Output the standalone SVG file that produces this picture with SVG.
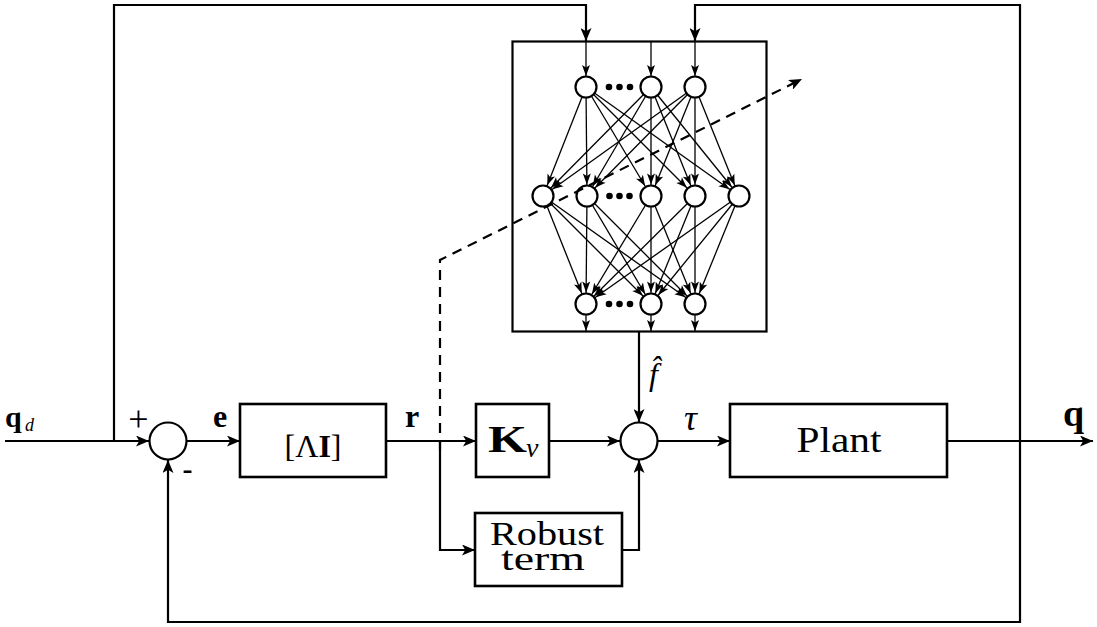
<svg xmlns="http://www.w3.org/2000/svg" width="1097" height="627" viewBox="0 0 1097 627">
<defs>
<style>
.ln{fill:none;stroke:#000;stroke-width:2.2;}
.bx{fill:#fff;stroke:#000;stroke-width:2.6;}
.nn{fill:none;stroke:#000;stroke-width:1.3;}
.neu{fill:#fff;stroke:#000;stroke-width:2.2;}
.dot{fill:#000;}
.t{font-family:"Liberation Serif","Times New Roman",serif;fill:#000;}
.b{font-weight:bold;}
.i{font-style:italic;}
</style>
<marker id="arr" viewBox="0 0 13 11" refX="13" refY="5.5" markerWidth="13" markerHeight="11" markerUnits="userSpaceOnUse" orient="auto">
<path d="M0,0 L13,5.5 L0,11 L3.2,5.5 z" fill="#000"/>
</marker>
<marker id="arrN" viewBox="0 0 11 8" refX="22.5" refY="4" markerWidth="11" markerHeight="8" markerUnits="userSpaceOnUse" orient="auto" overflow="visible">
<path d="M0,0 L11,4 L0,8 L2.6,4 z" fill="#000"/>
</marker>
<marker id="arrS" viewBox="0 0 11 8" refX="11" refY="4" markerWidth="11" markerHeight="8" markerUnits="userSpaceOnUse" orient="auto">
<path d="M0,0 L11,4 L0,8 L2.6,4 z" fill="#000"/>
</marker>
</defs>
<rect width="1097" height="627" fill="#fff"/>

<g id="nn-box">
<rect x="512.5" y="41.5" width="254" height="290" class="ln" stroke-width="2.6"/>
</g>

<g id="connectors">
<path class="ln" d="M5,441 L149,441" marker-end="url(#arr)"/>
<path class="ln" d="M187,441 L240,441" marker-end="url(#arr)"/>
<path class="ln" d="M386,441 L476,441" marker-end="url(#arr)"/>
<path class="ln" d="M440,441 L440,550 L475,550" marker-end="url(#arr)"/>
<path class="ln" d="M549,441 L620,441" marker-end="url(#arr)"/>
<path class="ln" d="M639,332 L639,422" marker-end="url(#arr)"/>
<path class="ln" d="M622,550 L639,550 L639,460" marker-end="url(#arr)"/>
<path class="ln" d="M658,441 L730,441" marker-end="url(#arr)"/>
<path class="ln" d="M947,441 L1093,441" marker-end="url(#arr)"/>
<path class="ln" d="M114,441 L114,5 L586,5 L586,41" marker-end="url(#arr)"/>
<path class="ln" d="M1020,441 L1020,5 L695,5 L695,41" marker-end="url(#arr)" stroke-width="2.6"/>
<path class="ln" d="M1020,441 L1020,622 L168,622 L168,460" marker-end="url(#arr)"/>
<path class="nn" d="M586,42 L586,76" marker-end="url(#arrS)"/>
<path class="nn" d="M651,42 L651,76" marker-end="url(#arrS)"/>
<path class="nn" d="M695,42 L695,76" marker-end="url(#arrS)"/>
<path class="nn" d="M586,315 L586,331" marker-end="url(#arrS)"/>
<path class="nn" d="M651,315 L651,331" marker-end="url(#arrS)"/>
<path class="nn" d="M695,315 L695,331" marker-end="url(#arrS)"/>
<g marker-end="url(#arrN)">
<path class="nn" d="M586,87 L543,196"/>
<path class="nn" d="M586,87 L587,196"/>
<path class="nn" d="M586,87 L651,196"/>
<path class="nn" d="M586,87 L695,196"/>
<path class="nn" d="M586,87 L739,196"/>
<path class="nn" d="M651,87 L543,196"/>
<path class="nn" d="M651,87 L587,196"/>
<path class="nn" d="M651,87 L651,196"/>
<path class="nn" d="M651,87 L695,196"/>
<path class="nn" d="M651,87 L739,196"/>
<path class="nn" d="M695,87 L543,196"/>
<path class="nn" d="M695,87 L587,196"/>
<path class="nn" d="M695,87 L651,196"/>
<path class="nn" d="M695,87 L695,196"/>
<path class="nn" d="M695,87 L739,196"/>
<path class="nn" d="M543,196 L586,304"/>
<path class="nn" d="M543,196 L651,304"/>
<path class="nn" d="M543,196 L695,304"/>
<path class="nn" d="M587,196 L586,304"/>
<path class="nn" d="M587,196 L651,304"/>
<path class="nn" d="M587,196 L695,304"/>
<path class="nn" d="M651,196 L586,304"/>
<path class="nn" d="M651,196 L651,304"/>
<path class="nn" d="M651,196 L695,304"/>
<path class="nn" d="M695,196 L586,304"/>
<path class="nn" d="M695,196 L651,304"/>
<path class="nn" d="M695,196 L695,304"/>
<path class="nn" d="M739,196 L586,304"/>
<path class="nn" d="M739,196 L651,304"/>
<path class="nn" d="M739,196 L695,304"/>
</g>
</g>

<g id="neurons">
<circle class="neu" cx="586" cy="87" r="10.5"/>
<circle class="neu" cx="651" cy="87" r="10.5"/>
<circle class="neu" cx="695" cy="87" r="10.5"/>
<circle class="dot" cx="609" cy="87" r="3.3"/>
<circle class="dot" cx="619.5" cy="87" r="3.3"/>
<circle class="dot" cx="630" cy="87" r="3.3"/>
<circle class="neu" cx="543" cy="196" r="10.5"/>
<circle class="neu" cx="587" cy="196" r="10.5"/>
<circle class="neu" cx="651" cy="196" r="10.5"/>
<circle class="neu" cx="695" cy="196" r="10.5"/>
<circle class="neu" cx="739" cy="196" r="10.5"/>
<circle class="dot" cx="609.5" cy="196" r="3.3"/>
<circle class="dot" cx="619.5" cy="196" r="3.3"/>
<circle class="dot" cx="629.5" cy="196" r="3.3"/>
<circle class="neu" cx="586" cy="304" r="10.5"/>
<circle class="neu" cx="651" cy="304" r="10.5"/>
<circle class="neu" cx="695" cy="304" r="10.5"/>
<circle class="dot" cx="609" cy="304" r="3.3"/>
<circle class="dot" cx="619.5" cy="304" r="3.3"/>
<circle class="dot" cx="630" cy="304" r="3.3"/>
</g>

<g id="adaptation">
<path class="ln" d="M440,450 L440,260 L802,79" stroke-width="3" stroke-dasharray="10,7" marker-end="url(#arr)"/>
</g>

<g id="sum1">
<circle class="neu" cx="168" cy="441" r="18.5"/>
<text class="t" x="138.5" y="431" font-size="36" text-anchor="middle">+</text>
<text class="t b" x="187.5" y="479" font-size="30" text-anchor="middle">-</text>
</g>

<g id="lambda">
<rect class="bx" x="240" y="404" width="146" height="73"/>
<text class="t" x="313" y="457" font-size="32" text-anchor="middle">[Λ<tspan class="b">I</tspan>]</text>
</g>

<g id="kv">
<rect class="bx" x="476" y="404" width="73" height="73"/>
<text class="t b" x="488" y="452" font-size="38" textLength="39" lengthAdjust="spacingAndGlyphs">K</text>
<text class="t i" x="526" y="457" font-size="28">v</text>
</g>

<g id="robust">
<rect class="bx" x="475" y="513" width="147" height="73"/>
<text class="t" font-size="33" text-anchor="middle"><tspan x="547" y="545" textLength="114" lengthAdjust="spacingAndGlyphs">Robust</tspan><tspan x="543" y="570" textLength="84" lengthAdjust="spacingAndGlyphs">term</tspan></text>
</g>

<g id="sum2">
<circle class="neu" cx="639" cy="441" r="18.5"/>
</g>

<g id="plant">
<rect class="bx" x="730" y="404" width="217" height="73"/>
<text class="t" x="839" y="452" font-size="36" text-anchor="middle" textLength="85" lengthAdjust="spacingAndGlyphs">Plant</text>
</g>

<g id="labels">
<text class="t b" x="5" y="427" font-size="30">q</text>
<text class="t i" x="25" y="431" font-size="18">d</text>
<text class="t b" x="213" y="427" font-size="32">e</text>
<text class="t b" x="405" y="427" font-size="32">r</text>
<text class="t i" x="649" y="385" font-size="32">f̂</text>
<text class="t i" x="684" y="430" font-size="36">τ</text>
<text class="t b" x="1063" y="426" font-size="38">q</text>
</g>
</svg>
